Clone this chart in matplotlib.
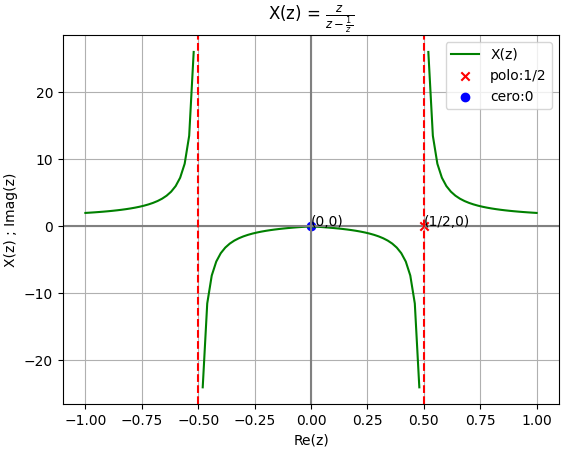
import numpy as np
import matplotlib
matplotlib.use("Agg")
import matplotlib.pyplot as plt

# Sample positions along the real axis
re_z = [-1.00, -0.98, -0.96, -0.94, -0.92, -0.90, -0.88, -0.86, -0.84, -0.82,
        -0.80, -0.78, -0.76, -0.74, -0.72, -0.70, -0.68, -0.66, -0.64, -0.62,
        -0.60, -0.58, -0.56, -0.54, -0.52, -0.50, -0.48, -0.46, -0.44, -0.42,
        -0.40, -0.38, -0.36, -0.34, -0.32, -0.30, -0.28, -0.26, -0.24, -0.22,
        -0.20, -0.18, -0.16, -0.14, -0.12, -0.10, -0.08, -0.06, -0.04, -0.02,
        0.00, 0.02, 0.04, 0.06, 0.08, 0.10, 0.12, 0.14, 0.16, 0.18,
        0.20, 0.22, 0.24, 0.26, 0.28, 0.30, 0.32, 0.34, 0.36, 0.38,
        0.40, 0.42, 0.44, 0.46, 0.48, 0.50, 0.52, 0.54, 0.56, 0.58,
        0.60, 0.62, 0.64, 0.66, 0.68, 0.70, 0.72, 0.74, 0.76, 0.78,
        0.80, 0.82, 0.84, 0.86, 0.88, 0.90, 0.92, 0.94, 0.96, 0.98, 1.00]

# Curve values (gap at the poles)
x_vals = [2.00, 2.042, 2.087, 2.136, 2.190, 2.25, 2.316, 2.389, 2.471, 2.563,
          2.667, 2.786, 2.923, 3.083, 3.273, 3.5, 3.778, 4.125, 4.571, 5.167,
          6.0, 7.25, 9.333, 13.5, 26.0, np.nan, -24.0, -11.5, -7.333, -5.25,
          -4.0, -3.167, -2.571, -2.125, -1.778, -1.5, -1.273, -1.083, -0.923, -0.786,
          -0.667, -0.563, -0.471, -0.389, -0.316, -0.25, -0.190, -0.136, -0.087, -0.042,
          0.0, -0.042, -0.087, -0.136, -0.190, -0.25, -0.316, -0.389, -0.471, -0.563,
          -0.667, -0.786, -0.923, -1.083, -1.273, -1.5, -1.778, -2.125, -2.571, -3.167,
          -4.0, -5.25, -7.333, -11.5, -24.0, np.nan, 26.0, 13.5, 9.333, 7.25,
          6.0, 5.167, 4.571, 4.125, 3.778, 3.5, 3.273, 3.083, 2.923, 2.786,
          2.667, 2.563, 2.471, 2.389, 2.316, 2.25, 2.190, 2.136, 2.087, 2.042, 2.00]

poles = [-0.5, 0.5]
polo_pt = [0.5, 0.0]
cero_pt = [0.0, 0.0]

fig = plt.figure(figsize=(5.66, 4.51), dpi=100)
ax = fig.add_axes([0.111, 0.104, 0.877, 0.818])

ax.plot(re_z, x_vals, color='green', label='X(z)')
ax.scatter(polo_pt[0], polo_pt[1], color='red', marker='x', label='polo:1/2')
ax.scatter(cero_pt[0], cero_pt[1], color='blue', marker='o', label='cero:0')
ax.annotate('(0,0)', (cero_pt[0], cero_pt[1]))
ax.annotate('(1/2,0)', (polo_pt[0], polo_pt[1]))
ax.axhline(0, color='gray')
ax.axvline(0, color='gray')
for p in poles:
    ax.axvline(p, color='red', linestyle='--')

ax.set_title(r'X(z) = $\frac{z}{z-\frac{1}{z}}$')
ax.set_xlabel('Re(z)')
ax.set_ylabel('X(z) ; Imag(z)')
ax.grid(True)
ax.legend(loc='upper right')

fig.savefig('out.png', dpi=100)
